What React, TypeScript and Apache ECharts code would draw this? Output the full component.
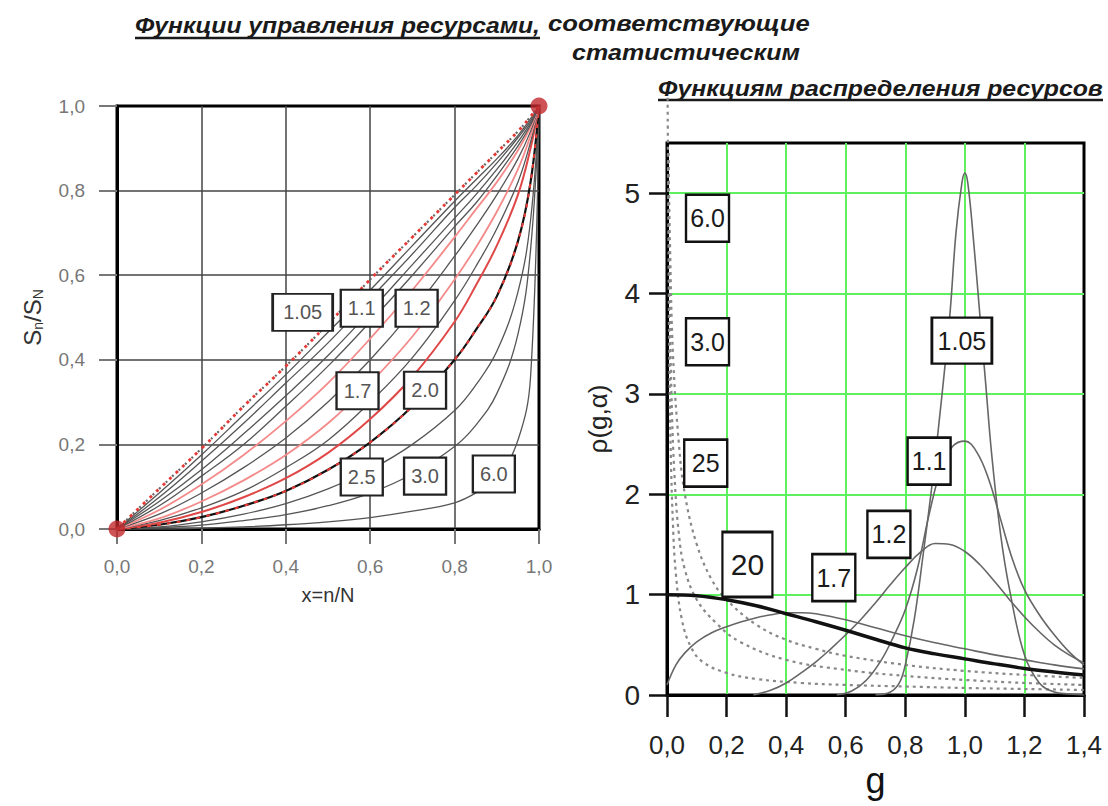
import React, { useEffect, useRef } from 'react';
import * as echarts from 'echarts';

// ---------- Left chart data: S_n/S_N vs x ----------
const leftX = [0, 0.1, 0.2, 0.3, 0.4, 0.5, 0.6, 0.7, 0.8, 0.85, 0.9, 0.95, 0.98, 1];
const diagRed = [0, 0.095, 0.19, 0.29, 0.385, 0.485, 0.59, 0.69, 0.79, 0.84, 0.89, 0.94, 0.975, 1];
const s105 = [0, 0.085, 0.175, 0.27, 0.365, 0.465, 0.565, 0.67, 0.775, 0.825, 0.875, 0.93, 0.97, 1];
const s11 = [0, 0.075, 0.16, 0.25, 0.345, 0.44, 0.545, 0.65, 0.76, 0.81, 0.865, 0.925, 0.965, 1];
const s12 = [0, 0.065, 0.14, 0.225, 0.315, 0.41, 0.515, 0.625, 0.735, 0.79, 0.85, 0.915, 0.96, 1];
const s13 = [0, 0.055, 0.125, 0.2, 0.29, 0.385, 0.49, 0.6, 0.715, 0.77, 0.835, 0.905, 0.955, 1];
const sRed14 = [0, 0.045, 0.105, 0.175, 0.255, 0.345, 0.45, 0.565, 0.69, 0.755, 0.82, 0.895, 0.95, 1];
const s15 = [0, 0.035, 0.085, 0.145, 0.215, 0.3, 0.4, 0.515, 0.645, 0.715, 0.79, 0.875, 0.94, 1];
const sRed16 = [0, 0.025, 0.065, 0.115, 0.175, 0.25, 0.345, 0.455, 0.59, 0.665, 0.75, 0.85, 0.93, 1];
const s17 = [0, 0.02, 0.05, 0.09, 0.145, 0.21, 0.3, 0.405, 0.54, 0.62, 0.71, 0.82, 0.915, 1];
const sRed18 = [0, 0.015, 0.04, 0.075, 0.12, 0.18, 0.26, 0.36, 0.49, 0.575, 0.67, 0.79, 0.9, 1];
const s20 = [0, 0.01, 0.028, 0.055, 0.09, 0.14, 0.205, 0.29, 0.4, 0.47, 0.55, 0.68, 0.82, 1];
const s25 = [0, 0.005, 0.017, 0.035, 0.06, 0.095, 0.14, 0.2, 0.28, 0.34, 0.42, 0.56, 0.73, 1];
const s30 = [0, 0.003, 0.009, 0.02, 0.034, 0.055, 0.085, 0.13, 0.195, 0.245, 0.32, 0.46, 0.66, 1];
const s60 = [0, 0, 0.002, 0.005, 0.01, 0.017, 0.027, 0.042, 0.062, 0.085, 0.12, 0.21, 0.36, 1];
const leftEnds = [[0, 0], [1, 1]];
const leftLabelText = ['1.05', '1.1', '1.2', '1.7', '2.0', '2.5', '3.0', '6.0'];
const leftLabelPos = [[0.44, 0.512], [0.58, 0.522], [0.71, 0.522], [0.57, 0.327], [0.73, 0.328], [0.58, 0.123], [0.73, 0.125], [0.893, 0.13]];

// ---------- Right chart data: rho(g, alpha) vs g ----------
const r105G = [0.7, 0.75, 0.78, 0.8, 0.83, 0.86, 0.89, 0.92, 0.95, 0.97, 0.99, 1.0, 1.01, 1.03, 1.05, 1.07, 1.09, 1.12, 1.15, 1.2, 1.25, 1.3, 1.35, 1.4];
const r105 = [0, 0.03, 0.12, 0.3, 0.75, 1.4, 2.1, 2.9, 3.8, 4.6, 5.1, 5.2, 5.1, 4.5, 3.8, 3.1, 2.4, 1.6, 1.05, 0.4, 0.12, 0.03, 0.01, 0];
const r11G = [0.57, 0.62, 0.67, 0.72, 0.76, 0.8, 0.84, 0.88, 0.92, 0.96, 1.0, 1.04, 1.08, 1.12, 1.16, 1.2, 1.25, 1.3, 1.35, 1.4];
const r11 = [0, 0.04, 0.15, 0.35, 0.58, 0.85, 1.25, 1.8, 2.25, 2.48, 2.53, 2.42, 2.15, 1.75, 1.35, 1.05, 0.8, 0.6, 0.43, 0.3];
const r12G = [0.29, 0.35, 0.4, 0.45, 0.5, 0.55, 0.6, 0.65, 0.7, 0.75, 0.8, 0.85, 0.9, 0.95, 1.0, 1.05, 1.1, 1.15, 1.2, 1.25, 1.3, 1.35, 1.4];
const r12 = [0, 0.05, 0.12, 0.22, 0.33, 0.46, 0.6, 0.75, 0.92, 1.1, 1.27, 1.42, 1.51, 1.5, 1.43, 1.3, 1.13, 0.95, 0.78, 0.63, 0.5, 0.4, 0.32];
const r17G = [0, 0.03, 0.06, 0.1, 0.15, 0.2, 0.25, 0.3, 0.35, 0.4, 0.45, 0.5, 0.6, 0.7, 0.8, 0.9, 1.0, 1.1, 1.2, 1.3, 1.4];
const r17 = [0.1, 0.3, 0.42, 0.53, 0.62, 0.68, 0.73, 0.77, 0.8, 0.82, 0.82, 0.81, 0.75, 0.67, 0.59, 0.52, 0.46, 0.4, 0.35, 0.3, 0.26];
const r20G = [0, 0.1, 0.2, 0.3, 0.4, 0.5, 0.6, 0.7, 0.8, 0.9, 1.0, 1.1, 1.2, 1.3, 1.4];
const r20 = [1.0, 0.99, 0.95, 0.89, 0.81, 0.73, 0.645, 0.555, 0.47, 0.41, 0.36, 0.31, 0.265, 0.23, 0.2];
const r25G = [0.005, 0.01, 0.02, 0.04, 0.06, 0.1, 0.15, 0.2, 0.3, 0.4, 0.5, 0.6, 0.8, 1.0, 1.2, 1.4];
const r25 = [5.4, 4.5, 3.4, 2.5, 2.0, 1.5, 1.15, 0.95, 0.7, 0.55, 0.46, 0.39, 0.3, 0.24, 0.2, 0.17];
const r30G = [0.004, 0.008, 0.015, 0.025, 0.04, 0.06, 0.1, 0.164, 0.245, 0.4, 0.6, 0.8, 1.0, 1.2, 1.4];
const r30 = [5.4, 4.2, 3.0, 2.2, 1.6, 1.25, 0.95, 0.72, 0.53, 0.35, 0.25, 0.19, 0.15, 0.12, 0.1];
const r60G = [0.002, 0.004, 0.006, 0.008, 0.012, 0.02, 0.03, 0.05, 0.08, 0.12, 0.2, 0.3, 0.45, 0.6, 0.8, 1.0, 1.2, 1.4];
const r60 = [5.95, 5.0, 4.0, 3.3, 2.5, 1.7, 1.2, 0.75, 0.48, 0.33, 0.22, 0.16, 0.12, 0.1, 0.085, 0.07, 0.06, 0.05];
const rightLabelText = ['6.0', '3.0', '25', '20', '1.7', '1.2', '1.1', '1.05'];
const rightLabelPos = [[0.136, 4.75], [0.136, 3.52], [0.13, 2.31], [0.27, 1.3], [0.56, 1.17], [0.745, 1.6], [0.88, 2.33], [0.99, 3.53]];

// ---------- Titles ----------
const titleTexts = ['Функции управления ресурсами,', 'соответствующие', 'статистическим', 'Функциям распределения ресурсов'];

const SANS = '"Liberation Sans", Arial, sans-serif';
const NARROW = '"Liberation Sans Narrow", "Liberation Sans", sans-serif';

const pairs = (xs: number[], ys: number[]) => xs.map((x, i) => [x, ys[i]]);
const comma = (v: number) => v.toFixed(1).replace('.', ',');

function measure(text: string, font: string) {
  const c = document.createElement('canvas').getContext('2d');
  if (!c) return 0;
  c.font = font;
  return c.measureText(text).width;
}

export default function App() {
  const ref = useRef<HTMLDivElement>(null);
  useEffect(() => {
    if (!ref.current) return;
    const chart = echarts.init(ref.current, null, { renderer: 'svg' });

    const leftLine = (data: number[], color: string, width: number, type: any = 'solid', extra: any = {}) => ({
      type: 'line', xAxisIndex: 0, yAxisIndex: 0, showSymbol: false, symbol: 'none',
      smooth: 0.4, data: pairs(leftX, data),
      lineStyle: { color, width, type, ...extra }, z: 3,
    });
    const rightLine = (gs: number[], data: number[], color: string, width: number, type: any = 'solid', extra: any = {}) => ({
      type: 'line', xAxisIndex: 1, yAxisIndex: 1, showSymbol: false, symbol: 'none',
      smooth: 0.4, data: pairs(gs, data),
      lineStyle: { color, width, type }, z: 3, ...extra,
    });

    const leftSizes = leftLabelText.map((t) => (t.length > 3 ? [60, 37] : [42, 37]));
    const rightSizes = rightLabelText.map((t) => (t === '1.05' ? [60, 46] : t === '20' ? [50, 65] : [43, 47]));

    const titleFont = { fontStyle: 'italic', fontWeight: 'bold', fontSize: 22, fontFamily: SANS };
    const fontStr = `italic bold 22px ${SANS}`;
    const titleLayout = [
      { x: 135, y: 25, w: 405 },
      { x: 548, y: 23, w: 262 },
      { x: 572, y: 53, w: 228 },
      { x: 658, y: 88, w: 445 },
    ];
    const titleGraphics = titleTexts.map((t, i) => {
      const m = measure(t, fontStr) || titleLayout[i].w;
      return {
        type: 'text', x: titleLayout[i].x, y: titleLayout[i].y, scaleX: titleLayout[i].w / m,
        style: { text: t, fill: '#1a1a1a', ...titleFont, verticalAlign: 'middle', align: 'left' },
      };
    });

    const option: any = {
      animation: false,
      backgroundColor: '#ffffff',
      grid: [
        { left: 117, top: 106, width: 422, height: 423, show: true, borderColor: '#000', borderWidth: 3, backgroundColor: 'transparent' },
        { left: 667, top: 143, width: 417, height: 552, show: true, borderColor: '#000', borderWidth: 3, backgroundColor: 'transparent' },
      ],
      xAxis: [
        {
          type: 'value', gridIndex: 0, min: 0, max: 1, interval: 0.2,
          name: 'x=n/N', nameLocation: 'middle', nameGap: 56,
          nameTextStyle: { fontSize: 20, color: '#333', fontFamily: SANS },
          axisLine: { show: true, onZero: false, lineStyle: { color: '#000', width: 3 } },
          axisTick: { show: true, length: 15, lineStyle: { color: '#777', width: 2 } },
          axisLabel: { margin: 28, color: '#777', fontSize: 19, fontFamily: SANS, formatter: (v: number) => comma(v) },
          splitLine: { show: true, showMinLine: false, showMaxLine: false, lineStyle: { color: '#444', width: 1.5 } },
        },
        {
          type: 'value', gridIndex: 1, min: 0, max: 1.4, interval: 0.2,
          name: 'g', nameLocation: 'middle', nameGap: 64,
          nameTextStyle: { fontSize: 36, color: '#111', fontFamily: SANS },
          axisLine: { show: true, onZero: false, lineStyle: { color: '#000', width: 3 } },
          axisTick: { show: true, length: 22, lineStyle: { color: '#111', width: 2.5 } },
          axisLabel: { margin: 37, color: '#222', fontSize: 26, fontFamily: SANS, formatter: (v: number) => comma(v) },
          splitLine: { show: true, showMinLine: false, showMaxLine: false, lineStyle: { color: '#5ef05e', width: 2 } },
        },
      ],
      yAxis: [
        {
          type: 'value', gridIndex: 0, min: 0, max: 1, interval: 0.2,
          name: 'S{sub|n}/S{sub|N}', nameLocation: 'middle', nameGap: 72,
          nameTextStyle: {
            fontSize: 24, color: '#333', fontFamily: SANS,
            rich: { sub: { fontSize: 14, color: '#333', fontFamily: SANS, padding: [12, 0, 0, 0] } },
          },
          axisLine: { show: true, onZero: false, lineStyle: { color: '#000', width: 3 } },
          axisTick: { show: true, length: 18, lineStyle: { color: '#777', width: 2 } },
          axisLabel: { margin: 32, color: '#777', fontSize: 19, fontFamily: SANS, formatter: (v: number) => comma(v) },
          splitLine: { show: true, showMinLine: false, showMaxLine: false, lineStyle: { color: '#444', width: 1.5 } },
        },
        {
          type: 'value', gridIndex: 1, min: 0, max: 5.5, interval: 1,
          name: 'ρ(g,α)', nameLocation: 'middle', nameGap: 56,
          nameTextStyle: { fontSize: 26, color: '#222', fontFamily: SANS },
          axisLine: { show: true, onZero: false, lineStyle: { color: '#000', width: 3 } },
          axisTick: { show: true, length: 18, lineStyle: { color: '#111', width: 2.5 } },
          axisLabel: {
            margin: 27, color: '#222', fontSize: 28, fontFamily: SANS, showMaxLabel: false,
            formatter: (v: number) => (Number.isInteger(v) ? String(v) : ''),
          },
          splitLine: { show: true, showMinLine: false, showMaxLine: false, lineStyle: { color: '#5ef05e', width: 2 } },
        },
      ],
      graphic: [
        ...titleGraphics,
        { type: 'line', shape: { x1: 135, y1: 38, x2: 540, y2: 38 }, style: { stroke: '#1a1a1a', lineWidth: 2.5 } },
        { type: 'line', shape: { x1: 658, y1: 100, x2: 1103, y2: 100 }, style: { stroke: '#1a1a1a', lineWidth: 2.5 } },
      ],
      series: [
        // left chart curves
        leftLine(s60, '#555', 1.3),
        leftLine(s30, '#555', 1.3),
        leftLine(s25, '#555', 1.3),
        leftLine(s20, '#111', 2.2),
        leftLine(s20, '#e53935', 2, [4, 6]),
        leftLine(sRed18, '#e04848', 2),
        leftLine(s17, '#555', 1.3),
        leftLine(sRed16, '#f48a8a', 1.8),
        leftLine(s15, '#555', 1.3),
        leftLine(sRed14, '#f48a8a', 1.8),
        leftLine(s13, '#555', 1.3),
        leftLine(s12, '#555', 1.3),
        leftLine(s11, '#555', 1.3),
        leftLine(s105, '#555', 1.3),
        leftLine(diagRed, '#666', 2.2, [2, 7], { dashOffset: 4.5 }),
        leftLine(diagRed, '#e53935', 2.8, [3, 6]),
        {
          type: 'scatter', xAxisIndex: 0, yAxisIndex: 0, symbol: 'rect', z: 10,
          data: leftLabelPos.map((p, i) => ({ value: p, symbolSize: leftSizes[i], label: { formatter: leftLabelText[i] } })),
          itemStyle: { color: '#fff', borderColor: '#222', borderWidth: 2.2, opacity: 1 },
          label: { show: true, position: 'inside', color: '#555', fontSize: 20, fontFamily: SANS },
          emphasis: { disabled: true },
        },
        {
          type: 'scatter', xAxisIndex: 0, yAxisIndex: 0, symbol: 'circle', symbolSize: 17, z: 12,
          data: leftEnds, itemStyle: { color: '#c0282d' }, clip: false,
        },
        // right chart curves
        rightLine(r60G, r60, '#888', 2.2, [3, 4], { clip: false }),
        rightLine(r30G, r30, '#888', 2.2, [3, 4]),
        rightLine(r25G, r25, '#888', 2.2, [3, 4]),
        rightLine(r17G, r17, '#666', 1.6),
        rightLine(r12G, r12, '#666', 1.6),
        rightLine(r11G, r11, '#666', 1.6),
        rightLine(r105G, r105, '#666', 1.6),
        rightLine(r20G, r20, '#111', 3.5),
        {
          type: 'scatter', xAxisIndex: 1, yAxisIndex: 1, symbol: 'rect', z: 10,
          data: rightLabelPos.map((p, i) => ({ value: p, symbolSize: rightSizes[i], label: { formatter: rightLabelText[i], fontSize: rightLabelText[i] === '20' ? 30 : 25 } })),
          itemStyle: { color: '#fff', borderColor: '#111', borderWidth: 2.5, opacity: 1 },
          label: { show: true, position: 'inside', color: '#1a1a1a', fontSize: 25, fontFamily: NARROW },
          emphasis: { disabled: true },
        },
      ],
    };
    chart.setOption(option);
    return () => chart.dispose();
  }, []);
  return (
    <div
      ref={ref}
      style={{ position: 'fixed', left: 0, top: 0, width: 1108, height: 806, background: '#fff' }}
    />
  );
}
